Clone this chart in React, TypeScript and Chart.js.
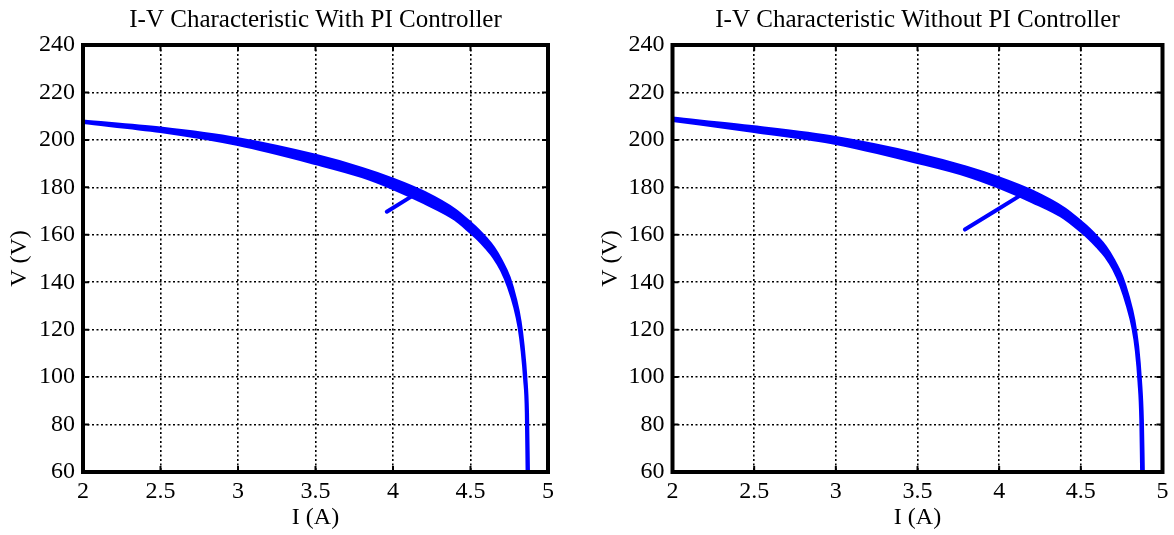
import React, { useEffect, useRef } from "react";
import { Chart, registerables } from "chart.js";

Chart.register(...registerables);

const FONT = "'Liberation Serif', 'Times New Roman', Times, serif";

// Axis ticks
const xTicks = [2, 2.5, 3, 3.5, 4, 4.5, 5];
const yTicks = [60, 80, 100, 120, 140, 160, 180, 200, 220, 240];

// Left plot: With PI controller (upper / lower envelope of the oscillating trace)
const withUpperI = [2, 2.5, 3, 3.5, 3.8, 4.0, 4.2, 4.4, 4.5, 4.55, 4.6, 4.65, 4.7, 4.75, 4.79, 4.82, 4.84, 4.857, 4.868, 4.874];
const withUpperV = [208, 205, 200.5, 193.5, 188, 183.5, 178, 170.5, 165, 162, 158.5, 154.5, 149, 142, 133, 123.5, 113, 100, 85, 60];
const withLowerI = [2, 2.5, 3, 3.5, 3.8, 4.0, 4.2, 4.4, 4.5, 4.55, 4.6, 4.65, 4.7, 4.745, 4.785, 4.813, 4.833, 4.849, 4.86, 4.865];
const withLowerV = [207.3, 203.5, 198, 190, 184.5, 179.5, 173.5, 166.5, 161, 158, 154.5, 150.5, 145, 138, 129.5, 121, 111, 99, 85, 60];
const withStartI = [3.96, 4.12];
const withStartV = [169.7, 176.2];

// Right plot: Without PI controller
const withoutUpperI = [2, 2.5, 3, 3.5, 3.8, 4.0, 4.2, 4.4, 4.5, 4.55, 4.6, 4.65, 4.7, 4.75, 4.79, 4.825, 4.848, 4.865, 4.877, 4.883];
const withoutUpperV = [209.2, 205.5, 201, 194, 188.5, 184, 178.5, 171, 165.5, 162.5, 159, 155, 149.5, 142.5, 134, 124, 113, 99, 82, 60];
const withoutLowerI = [2, 2.5, 3, 3.5, 3.8, 4.0, 4.2, 4.4, 4.5, 4.55, 4.6, 4.65, 4.7, 4.745, 4.785, 4.818, 4.84, 4.856, 4.867, 4.872];
const withoutLowerV = [208.2, 203.5, 198.5, 190.5, 185, 180, 174, 167, 161.5, 158.5, 155, 151, 145.5, 138.5, 130, 121, 111, 98, 82, 60];
const withoutStartI = [3.79, 4.13];
const withoutStartV = [162.2, 176.6];

const BLUE = "#0000ff";

function pts(xs: number[], ys: number[]) {
  return xs.map((x, i) => ({ x, y: ys[i] }));
}

const matlabPlugin = {
  id: "matlabFrame",
  afterDraw(chart: any, _args: any, opts: any) {
    const { ctx, chartArea: a } = chart;
    const xs = chart.scales.x;
    const ys = chart.scales.y;
    ctx.save();
    ctx.strokeStyle = "#000";
    ctx.lineWidth = 2;
    const tl = 6;
    ctx.beginPath();
    for (const t of xTicks) {
      const px = xs.getPixelForValue(t);
      ctx.moveTo(px, a.top);
      ctx.lineTo(px, a.top + tl);
      ctx.moveTo(px, a.bottom);
      ctx.lineTo(px, a.bottom - tl);
    }
    for (const t of yTicks) {
      const py = ys.getPixelForValue(t);
      ctx.moveTo(a.left, py);
      ctx.lineTo(a.left + tl, py);
      ctx.moveTo(a.right, py);
      ctx.lineTo(a.right - tl, py);
    }
    ctx.stroke();
    ctx.lineWidth = 4;
    ctx.strokeRect(a.left, a.top, a.right - a.left, a.bottom - a.top);
    ctx.font = `25px ${FONT}`;
    ctx.fillStyle = "#000";
    ctx.textAlign = "center";
    ctx.textBaseline = "alphabetic";
    ctx.fillText(opts.text, (a.left + a.right) / 2, opts.titleY);
    ctx.restore();
  },
};

function buildConfig(
  title: string,
  upper: { x: number; y: number }[],
  lower: { x: number; y: number }[],
  start: { x: number; y: number }[],
  yAxisWidth: number,
  padRight: number,
  yTitlePad: number
): any {
  const line = (data: any[], w: number, fill: any) => ({
    data,
    borderColor: BLUE,
    backgroundColor: BLUE,
    borderWidth: w,
    pointRadius: 0,
    showLine: true,
    fill,
    cubicInterpolationMode: "monotone",
    borderCapStyle: "round",
    borderJoinStyle: "round",
  });
  const tickFmt = (v: any) => String(Math.round(Number(v) * 10) / 10);
  return {
    type: "scatter",
    data: {
      datasets: [line(upper, 3, "+1"), line(lower, 3, false), line(start, 4, false)],
    },
    options: {
      animation: false,
      responsive: false,
      maintainAspectRatio: false,
      devicePixelRatio: 1,
      layout: { padding: { top: 45, right: padRight, bottom: 0, left: 0 } },
      plugins: {
        legend: { display: false },
        tooltip: { enabled: false },
        title: { display: false },
        filler: { propagate: false },
        matlabFrame: { text: title, titleY: 27 },
      },
      scales: {
        x: {
          type: "linear",
          min: 2,
          max: 5,
          afterBuildTicks: (s: any) => {
            s.ticks = xTicks.map((v) => ({ value: v }));
          },
          afterFit: (s: any) => {
            s.height = 63;
          },
          grid: {
            color: "#000",
            lineWidth: 1.6,
            drawTicks: false,
          },
          border: { display: false, dash: [2, 2.5] },
          ticks: {
            color: "#000",
            font: { family: FONT, size: 24, lineHeight: 1.2 },
            padding: 5,
            maxRotation: 0,
            autoSkip: false,
            callback: tickFmt,
          },
          title: {
            display: true,
            text: "I (A)",
            color: "#000",
            font: { family: FONT, size: 24, lineHeight: 1.2 },
            padding: 2.6,
          },
        },
        y: {
          type: "linear",
          min: 60,
          max: 240,
          afterBuildTicks: (s: any) => {
            s.ticks = yTicks.map((v) => ({ value: v }));
          },
          afterFit: (s: any) => {
            s.width = yAxisWidth;
          },
          grid: {
            color: "#000",
            lineWidth: 1.6,
            drawTicks: false,
          },
          border: { display: false, dash: [2, 2.5] },
          ticks: {
            color: "#000",
            font: { family: FONT, size: 24, lineHeight: 1.2 },
            padding: 8,
            autoSkip: false,
            callback: tickFmt,
          },
          title: {
            display: true,
            text: "V (V)",
            color: "#000",
            font: { family: FONT, size: 24, lineHeight: 1.2 },
            padding: yTitlePad,
          },
        },
      },
    },
    plugins: [matlabPlugin],
  };
}

function PlotCanvas(props: {
  left: number;
  width: number;
  config: () => any;
}) {
  const ref = useRef<HTMLCanvasElement | null>(null);
  useEffect(() => {
    if (!ref.current) return;
    const chart = new Chart(ref.current, props.config());
    return () => chart.destroy();
  }, []);
  return (
    <canvas
      ref={ref}
      width={props.width}
      height={535}
      style={{
        position: "absolute",
        left: props.left,
        top: 0,
        width: props.width,
        height: 535,
      }}
    />
  );
}

export default function App() {
  useEffect(() => {
    document.body.style.margin = "0";
  }, []);
  return (
    <div
      style={{
        position: "fixed",
        left: 0,
        top: 0,
        width: 1174,
        height: 535,
        background: "#fff",
        overflow: "hidden",
      }}
    >
      <PlotCanvas
        left={0}
        width={590}
        config={() =>
          buildConfig(
            "I-V Characteristic With PI Controller",
            pts(withUpperI, withUpperV),
            pts(withLowerI, withLowerV),
            pts(withStartI, withStartV),
            83,
            42,
            5.6
          )
        }
      />
      <PlotCanvas
        left={590}
        width={584}
        config={() =>
          buildConfig(
            "I-V Characteristic Without PI Controller",
            pts(withoutUpperI, withoutUpperV),
            pts(withoutLowerI, withoutLowerV),
            pts(withoutStartI, withoutStartV),
            82.5,
            11.5,
            6.6
          )
        }
      />
    </div>
  );
}
